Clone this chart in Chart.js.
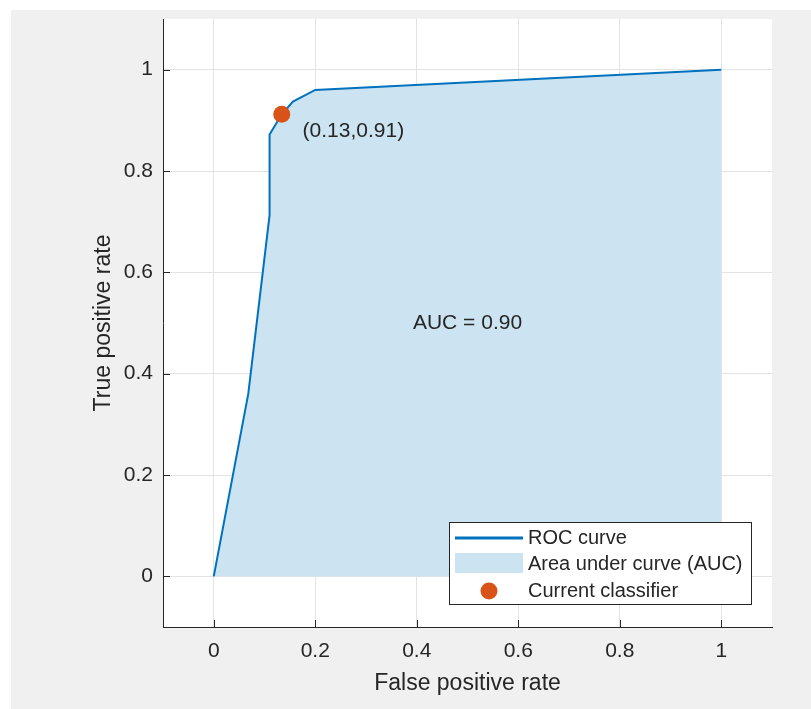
<!DOCTYPE html>
<html>
<head>
<meta charset="utf-8">
<script src="https://cdn.jsdelivr.net/npm/chart.js@4"></script>
<style>
  html, body { margin: 0; padding: 0; background: #ffffff; }
  canvas { display: block; }
</style>
</head>
<body>
<canvas id="c" width="811" height="709"></canvas>
<script>
// ---- data ----
const fprValues = [0, 0.068, 0.11, 0.11, 0.134, 0.156, 0.2, 1];
const tprValues = [0, 0.36, 0.713, 0.872, 0.912, 0.937, 0.96, 1];
const classifierFpr = [0.134];
const classifierTpr = [0.912];
const xTicks = [0, 0.2, 0.4, 0.6, 0.8, 1];
const yTicks = [0, 0.2, 0.4, 0.6, 0.8, 1];
const seriesNames = ['ROC curve', 'Area under curve (AUC)', 'Current classifier'];
const aucText = 'AUC = 0.90';
const aucPos = [0.5, 0.5];
const classifierText = '(0.13,0.91)';
const classifierTextPos = [0.175, 0.878];
const axisTitles = ['False positive rate', 'True positive rate'];

const FONT = "'Liberation Sans', Arial, Helvetica, sans-serif";
const TEXT = '#262626';
const BLUE = 'rgb(0,114,189)';
const AREA = 'rgb(204,227,242)';
const ORANGE = 'rgb(217,83,25)';

const rocPts = fprValues.map((x, i) => ({ x, y: tprValues[i] }));
const clsPts = classifierFpr.map((x, i) => ({ x, y: classifierTpr[i] }));

const bgPlugin = {
  id: 'bg',
  beforeDraw(chart) {
    const { ctx, chartArea: a } = chart;
    ctx.save();
    ctx.fillStyle = '#ffffff';
    ctx.fillRect(0, 0, chart.width, chart.height);
    ctx.fillStyle = '#f0f0f0';
    ctx.fillRect(11, 10, chart.width - 11, chart.height - 10);
    ctx.fillStyle = '#ffffff';
    ctx.fillRect(a.left, a.top, a.right - a.left, a.bottom - a.top);
    ctx.restore();
  }
};

const overlayPlugin = {
  id: 'overlay',
  afterDatasetsDraw(chart) {
    const { ctx, chartArea: a, scales: { x, y } } = chart;
    ctx.save();
    // inward tick marks
    ctx.strokeStyle = TEXT;
    ctx.lineWidth = 1;
    ctx.beginPath();
    xTicks.forEach(v => {
      const px = Math.round(x.getPixelForValue(v)) + 0.5;
      ctx.moveTo(px, a.bottom); ctx.lineTo(px, a.bottom - 7);
    });
    yTicks.forEach(v => {
      const py = Math.round(y.getPixelForValue(v)) + 0.5;
      ctx.moveTo(a.left, py); ctx.lineTo(a.left + 7, py);
    });
    ctx.stroke();
    // annotations
    ctx.fillStyle = TEXT;
    ctx.font = '21px ' + FONT;
    ctx.textBaseline = 'middle';
    ctx.textAlign = 'center';
    ctx.fillText(aucText, x.getPixelForValue(aucPos[0]), y.getPixelForValue(aucPos[1]));
    ctx.textAlign = 'left';
    ctx.fillText(classifierText, x.getPixelForValue(classifierTextPos[0]), y.getPixelForValue(classifierTextPos[1]));
    ctx.restore();
  },
  afterDraw(chart) {
    const { ctx } = chart;
    const bx = 449.5, by = 522.5, bw = 302, bh = 82;
    ctx.save();
    ctx.fillStyle = '#ffffff';
    ctx.fillRect(bx, by, bw, bh);
    ctx.strokeStyle = TEXT;
    ctx.lineWidth = 1;
    ctx.strokeRect(bx, by, bw, bh);
    const rows = [538, 564.5, 591];
    // ROC line sample
    ctx.strokeStyle = BLUE;
    ctx.lineWidth = 3;
    ctx.beginPath();
    ctx.moveTo(455, rows[0]); ctx.lineTo(523, rows[0]);
    ctx.stroke();
    // area sample
    ctx.fillStyle = AREA;
    ctx.fillRect(455, 553, 68, 20);
    // dot sample
    ctx.fillStyle = ORANGE;
    ctx.beginPath();
    ctx.arc(489, rows[2], 8.5, 0, Math.PI * 2);
    ctx.fill();
    ctx.fillStyle = TEXT;
    ctx.font = '20px ' + FONT;
    ctx.textAlign = 'left';
    ctx.textBaseline = 'middle';
    seriesNames.forEach((n, i) => ctx.fillText(n, 528, rows[i]));
    ctx.restore();
  }
};

new Chart(document.getElementById('c'), {
  type: 'scatter',
  data: {
    datasets: [
      {
        label: seriesNames[2], data: clsPts, order: 1,
        backgroundColor: ORANGE, borderColor: ORANGE, pointRadius: 8.5, pointBorderWidth: 0
      },
      {
        label: seriesNames[0], data: rocPts, order: 2, showLine: true,
        borderColor: BLUE, borderWidth: 2, pointRadius: 0, fill: false, tension: 0
      },
      {
        label: seriesNames[1], data: rocPts, order: 3, showLine: true,
        borderWidth: 0, borderColor: 'rgba(0,0,0,0)', backgroundColor: AREA,
        pointRadius: 0, fill: 'origin', tension: 0
      }
    ]
  },
  options: {
    responsive: false,
    animation: false,
    devicePixelRatio: 1,
    layout: { padding: { left: 0, top: 19, right: 39, bottom: 0 } },
    plugins: { legend: { display: false }, tooltip: { enabled: false } },
    scales: {
      x: {
        type: 'linear', min: -0.1, max: 1.1,
        afterFit: s => { s.height = 82; s.paddingLeft = 0; s.paddingRight = 0; s.paddingTop = 0; s.paddingBottom = 0; },
        afterBuildTicks: s => { s.ticks = xTicks.map(v => ({ value: v })); },
        grid: { color: '#e3e3e3', drawTicks: false },
        border: { display: true, color: TEXT, width: 1 },
        ticks: { color: TEXT, padding: 12, font: { family: FONT, size: 21 },
                 callback: v => String(+(+v).toFixed(2)) },
        title: { display: true, text: axisTitles[0], color: TEXT,
                 font: { family: FONT, size: 23 }, padding: { top: 0, bottom: 12 } }
      },
      y: {
        type: 'linear', min: -0.1, max: 1.1,
        afterFit: s => { s.width = 163; s.paddingLeft = 0; s.paddingRight = 0; s.paddingTop = 0; s.paddingBottom = 0; },
        afterBuildTicks: s => { s.ticks = yTicks.map(v => ({ value: v })); },
        grid: { color: '#e3e3e3', drawTicks: false },
        border: { display: true, color: TEXT, width: 1 },
        ticks: { color: TEXT, padding: 10, font: { family: FONT, size: 21 },
                 callback: v => String(+(+v).toFixed(2)) },
        title: { display: true, text: axisTitles[1], color: TEXT,
                 font: { family: FONT, size: 23 }, padding: { top: 90, bottom: 0 } }
      }
    }
  },
  plugins: [bgPlugin, overlayPlugin]
});
</script>
</body>
</html>
